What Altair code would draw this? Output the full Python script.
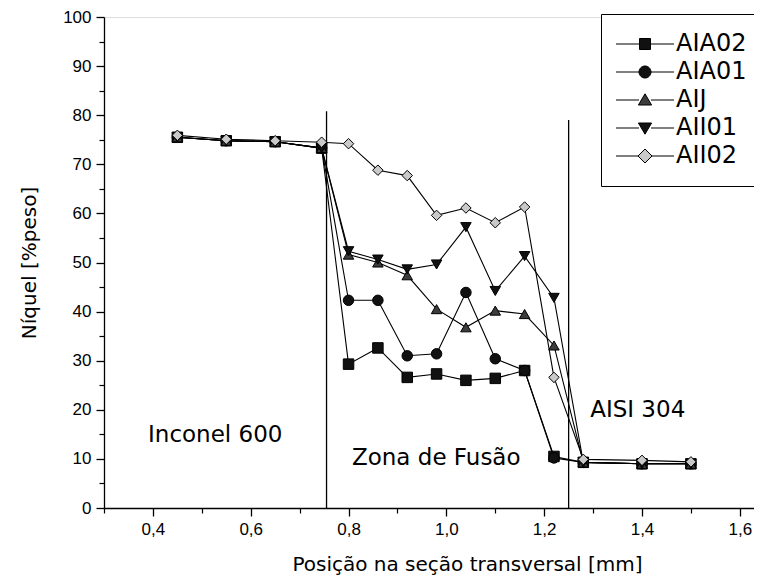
import altair as alt
import pandas as pd

# ---- data ----
x_pos = [0.45, 0.55, 0.65, 0.745, 0.80, 0.86, 0.92, 0.98, 1.04, 1.10, 1.16, 1.22, 1.28, 1.40, 1.50]
series_names = ["AIA02", "AIA01", "AIJ", "AII01", "AII02"]
aia02 = [75.5, 74.8, 74.6, 73.3, 29.3, 32.6, 26.6, 27.3, 26.0, 26.4, 28.0, 10.5, 9.3, 9.0, 9.0]
aia01 = [75.5, 74.8, 74.6, 73.3, 42.3, 42.3, 31.0, 31.4, 43.9, 30.4, 28.0, 10.2, 9.3, 9.0, 9.0]
aij = [75.5, 74.8, 74.6, 73.3, 51.6, 50.0, 47.4, 40.5, 36.8, 40.2, 39.5, 33.1, 9.3, 9.0, 9.0]
aii01 = [75.5, 74.8, 74.6, 73.3, 52.3, 50.6, 48.6, 49.6, 57.2, 44.2, 51.3, 42.8, 9.3, 9.0, 9.0]
aii02 = [75.9, 75.1, 74.8, 74.5, 74.2, 68.8, 67.7, 59.6, 61.1, 58.1, 61.3, 26.6, 9.9, 9.7, 9.4]

divider_x = [0.755, 1.25]
divider_top = [80.8, 79.0]

region_labels = ["Inconel 600", "Zona de Fusão", "AISI 304"]
region_x = [0.39, 0.807, 1.294]
region_y = [14.8, 10.1, 19.9]

x_major = [0.4, 0.6, 0.8, 1.0, 1.2, 1.4, 1.6]
x_minor = [0.3, 0.5, 0.7, 0.9, 1.1, 1.3, 1.5]
y_major = [0, 10, 20, 30, 40, 50, 60, 70, 80, 90, 100]
y_minor = [5, 15, 25, 35, 45, 55, 65, 75, 85, 95]

# ---- styles ----
plot_shapes = ["square", "circle", "triangle-up", "triangle-down", "diamond"]
fills = ["#111111", "#111111", "#3c3c3c", "#111111", "#c9c9c9"]
legend_shapes = [
    "M-2.9,0H-0.55M0.55,0H2.9M-0.55,-0.55H0.55V0.55H-0.55Z",
    "M-2.9,0H-0.6M0.6,0H2.9M0.6,0A0.6,0.6,0,1,1,-0.6,0A0.6,0.6,0,1,1,0.6,0Z",
    "M-2.9,0H-0.6M0.6,0H2.9M0,-0.62L0.66,0.5L-0.66,0.5Z",
    "M-2.9,0H-0.6M0.6,0H2.9M0,0.62L0.66,-0.5L-0.66,-0.5Z",
    "M-2.9,0H-0.7M0.7,0H2.9M0,-0.7L0.7,0L0,0.7L-0.7,0Z",
]

TXT_FONT = "DejaVu Sans"
NUM_FONT = "Liberation Sans"

rows = []
for name, vals in zip(series_names, [aia02, aia01, aij, aii01, aii02]):
    for xv, yv in zip(x_pos, vals):
        rows.append({"pos": xv, "ni": yv, "serie": name, "serie_p": name})
df = pd.DataFrame(rows)

div_df = pd.DataFrame({"dx": divider_x, "top": divider_top})
lab_df = pd.DataFrame({"lx": region_x, "ly": region_y, "txt": region_labels})

x_scale = alt.Scale(domain=[0.3, 1.629], nice=False, zero=False)
y_scale = alt.Scale(domain=[0, 100], nice=False)

x_axis_major = alt.Axis(
    orient="bottom",
    values=x_major, tickSize=8, tickWidth=1.3, domainWidth=1.3, domainColor="black",
    tickColor="black", labelColor="black", labelFont=NUM_FONT, labelFontSize=17,
    labelPadding=5, labelExpr="replace(format(datum.value, '.1f'), '.', ',')",
    title="Posição na seção transversal [mm]", titleFont=TXT_FONT, titleFontSize=20,
    titleFontWeight="normal", titleColor="black", titlePadding=17, titleX=363, grid=False,
)
y_axis_major = alt.Axis(
    orient="left",
    values=y_major, tickSize=8, tickWidth=1.3, domainWidth=1.3, domainColor="black",
    tickColor="black", labelColor="black", labelFont=NUM_FONT, labelFontSize=17,
    labelPadding=5, title="Níquel [%peso]", titleFont=TXT_FONT, titleFontSize=20,
    titleFontWeight="normal", titleColor="black", titlePadding=23, grid=False,
)
x_axis_minor = alt.Axis(orient="bottom", values=x_minor, tickSize=5, tickWidth=1.2, tickColor="black",
                        labels=False, domain=False, title=None, grid=False)
y_axis_minor = alt.Axis(orient="left", values=y_minor, tickSize=5, tickWidth=1.2, tickColor="black",
                        labels=False, domain=False, title=None, grid=False)

lines = alt.Chart(df).mark_line(color="black", strokeWidth=1.1).encode(
    x=alt.X("pos:Q", scale=x_scale, axis=x_axis_major),
    y=alt.Y("ni:Q", scale=y_scale, axis=y_axis_major),
    detail="serie:N",
)

points = alt.Chart(df).mark_point(filled=True, opacity=1, stroke="black", strokeWidth=1, size=110).encode(
    x=alt.X("pos:Q", scale=x_scale, axis=None),
    y=alt.Y("ni:Q", scale=y_scale, axis=None),
    shape=alt.Shape("serie_p:N", scale=alt.Scale(domain=series_names, range=plot_shapes), legend=None),
    fill=alt.Fill("serie_p:N", scale=alt.Scale(domain=series_names, range=fills), legend=None),
)

leg = alt.Legend(title=None, orient="none", legendX=497, legendY=-3,
                 strokeColor="black", fillColor="white", padding=18,
                 symbolSize=400, symbolStrokeWidth=1,
                 symbolOffset=14, labelOffset=19, labelFont=TXT_FONT,
                 labelFontSize=24, labelColor="black", rowPadding=4)

legend_layer = alt.Chart(df).transform_filter("false").mark_point(
    filled=False, opacity=1, strokeWidth=1
).encode(
    x=alt.X("pos:Q", scale=x_scale, axis=None),
    y=alt.Y("ni:Q", scale=y_scale, axis=None),
    shape=alt.Shape("serie:N", scale=alt.Scale(domain=series_names, range=legend_shapes), legend=leg),
    fill=alt.Fill("serie:N", scale=alt.Scale(domain=series_names, range=fills), legend=leg),
    stroke=alt.Stroke("serie:N", scale=alt.Scale(domain=series_names, range=["black"] * 5), legend=leg),
)

rules = alt.Chart(div_df).mark_rule(color="black", strokeWidth=1.3).encode(
    x=alt.X("dx:Q", scale=x_scale, axis=x_axis_minor),
    y=alt.Y("top:Q", scale=y_scale, axis=y_axis_minor),
    y2=alt.datum(0),
)

texts = alt.Chart(lab_df).mark_text(align="left", baseline="middle", font=TXT_FONT,
                                    fontSize=23, color="black").encode(
    x=alt.X("lx:Q", scale=x_scale, axis=None),
    y=alt.Y("ly:Q", scale=y_scale, axis=None),
    text="txt:N",
)

chart = alt.layer(rules, lines, points, texts, legend_layer).resolve_scale(
    shape="independent", fill="independent", stroke="independent"
).resolve_axis(x="independent", y="independent").properties(
    width=650, height=491,
    padding={"left": 96, "top": 9, "right": 0, "bottom": 70},
    autosize=alt.AutoSizeParams(type="none"),
).configure_view(stroke=None).configure(background="white")

chart.save("out.html", embed_options={"renderer": "svg", "actions": False})
